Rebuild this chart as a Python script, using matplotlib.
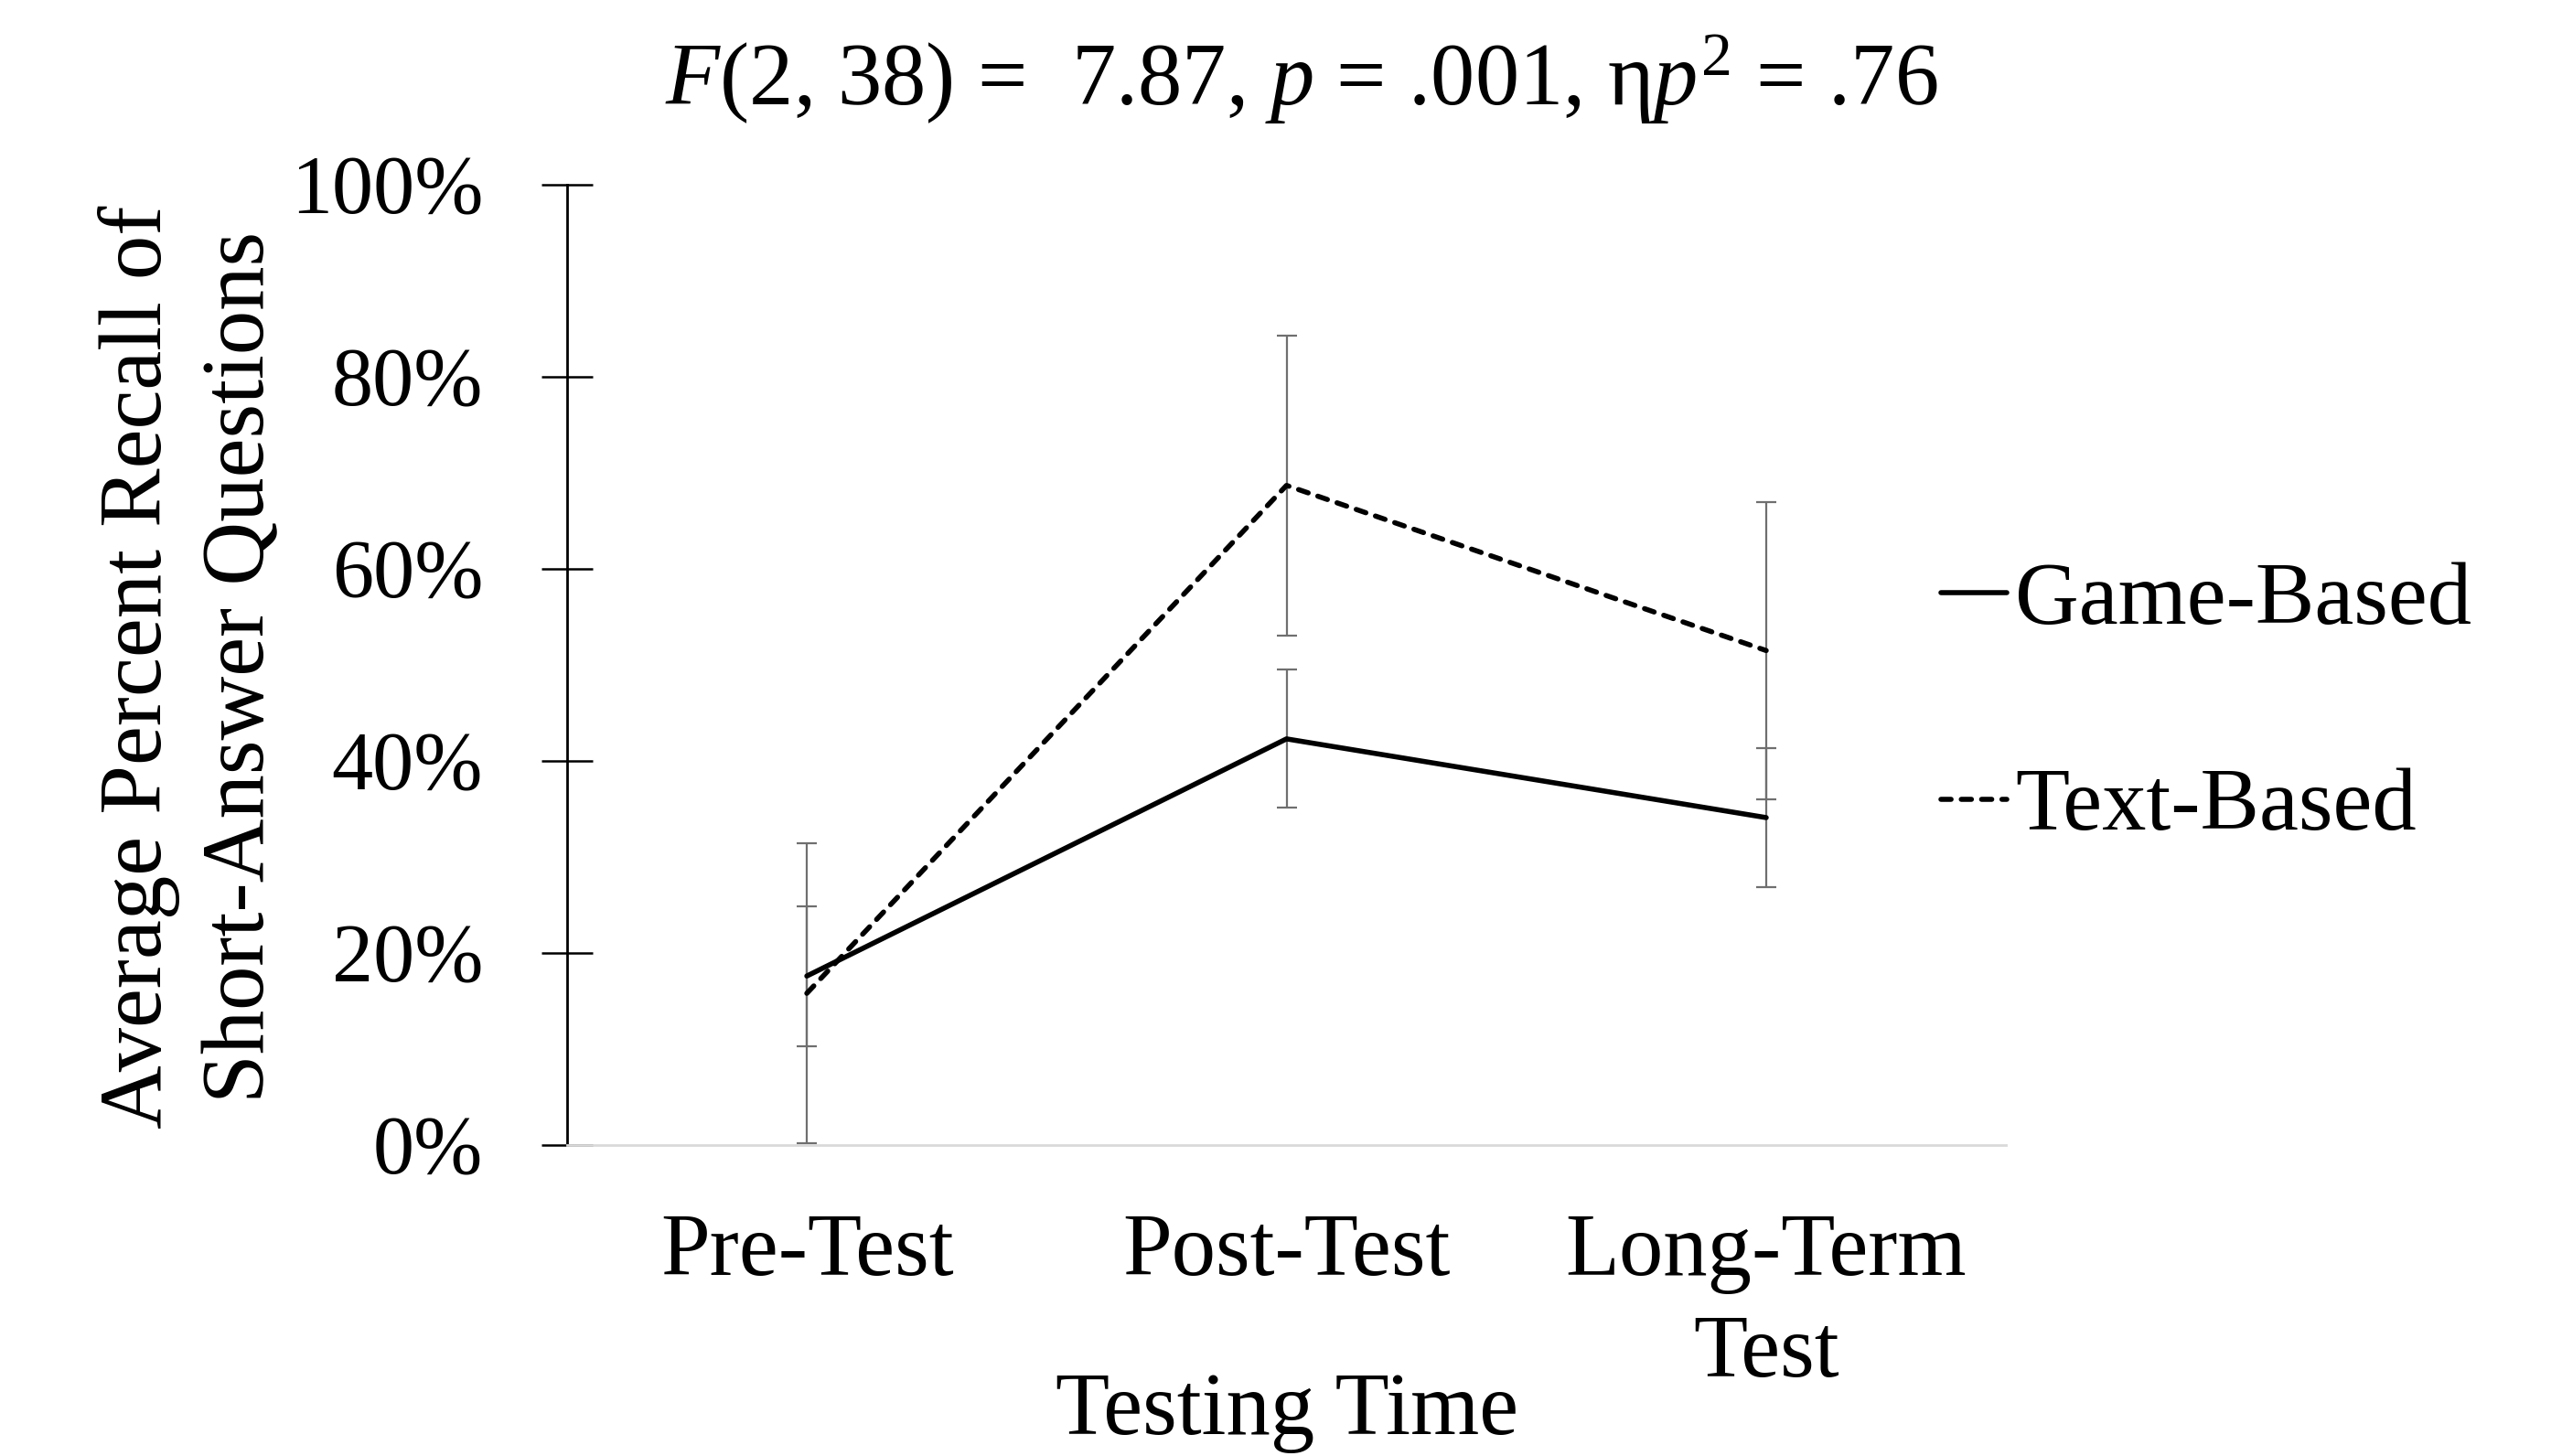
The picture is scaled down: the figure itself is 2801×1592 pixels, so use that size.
"""Recall of short-answer questions by testing time, game vs text group."""

import matplotlib
matplotlib.use("Agg")
import matplotlib.pyplot as plt

# --- data (percent) ---
times = ["Pre-Test", "Post-Test", "Long-Term\nTest"]
game_mean = [17.6, 42.3, 34.1]
game_err = [7.3, 7.2, 7.25]
text_mean = [15.8, 68.7, 51.5]
text_err = [15.6, 15.6, 15.5]
y_ticks = [0, 20, 40, 60, 80, 100]
y_labels = ["0%", "20%", "40%", "60%", "80%", "100%"]

plt.rcParams["font.family"] = ["Liberation Serif", "DejaVu Serif"]
plt.rcParams["mathtext.fontset"] = "custom"
plt.rcParams["mathtext.rm"] = "Liberation Serif"
plt.rcParams["mathtext.it"] = "Liberation Serif:italic"

FS = 34.8      # titles, category labels, legend
FS_Y = 32.5    # y tick labels
ERR = "#6f6f6f"

fig = plt.figure(figsize=(2801 / 200, 1592 / 200), dpi=200)
ax = fig.add_axes([0.2213, 0.2136, 0.783 - 0.2213, 0.873 - 0.2136])

x = list(range(len(times)))

ax.errorbar(x, text_mean, yerr=text_err, fmt="none", ecolor=ERR,
            elinewidth=0.8, capsize=4, capthick=0.8, zorder=2)
ax.errorbar(x, game_mean, yerr=game_err, fmt="none", ecolor=ERR,
            elinewidth=0.8, capsize=4, capthick=0.8, zorder=2)

ax.plot(x, game_mean, color="black", lw=2.0, solid_capstyle="round",
        label="Game-Based", zorder=3)
ax.plot(x, text_mean, color="black", lw=2.0, dashes=(2.0, 2.0),
        dash_capstyle="round", label="Text-Based", zorder=3)

ax.set_xlim(-0.5, 2.5)
ax.set_ylim(0, 100)
ax.set_xticks(x)
ax.set_xticklabels(times, fontsize=FS, linespacing=1.33)
ax.set_yticks(y_ticks)
ax.set_yticklabels(y_labels, fontsize=FS_Y)
ax.tick_params(axis="x", length=0, pad=27)
ax.tick_params(axis="y", direction="inout", length=20, width=0.9, pad=23)

for side in ("top", "right"):
    ax.spines[side].set_visible(False)
ax.spines["left"].set_linewidth(1.0)
ax.spines["bottom"].set_color("#d9d9d9")
ax.spines["bottom"].set_linewidth(1.0)

fig.text(0.508, 0.946,
         r"$F$(2, 38) =  7.87, $p$ = .001, η$p^2$ = .76",
         ha="center", va="center", fontsize=FS)
fig.text(0.0743, 0.542, "Average Percent Recall of\nShort-Answer Questions",
         rotation=90, ha="center", va="center", fontsize=FS,
         multialignment="center", linespacing=1.35)
fig.text(0.5025, 0.002, "Testing Time", ha="center", va="bottom",
         fontsize=FS)

fig.legend(loc="center left", bbox_to_anchor=(0.7576, 0.5156),
           frameon=False, fontsize=FS, handlelength=0.74,
           handletextpad=0.1, labelspacing=1.42, borderpad=0,
           borderaxespad=0)

fig.savefig("out.png", dpi=200)
